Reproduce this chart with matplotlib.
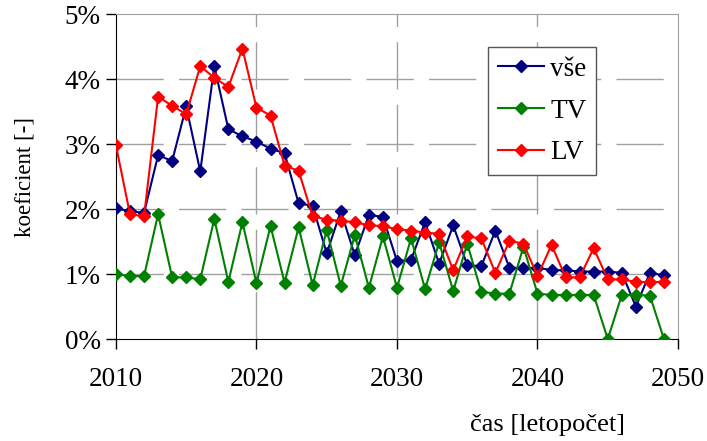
import numpy as np
import matplotlib.pyplot as plt
from matplotlib.ticker import FuncFormatter

# roky a hodnoty koeficientu v procentech
years = list(range(2010, 2050))
vse = [2.01, 1.97, 1.94, 2.83, 2.74, 3.58, 2.58, 4.20, 3.23, 3.12,
       3.04, 2.93, 2.86, 2.09, 2.05, 1.32, 1.97, 1.29, 1.91, 1.88,
       1.20, 1.22, 1.80, 1.16, 1.75, 1.14, 1.12, 1.67, 1.10, 1.09,
       1.10, 1.06, 1.06, 1.04, 1.04, 1.04, 1.02, 0.50, 1.02, 0.98]
tv = [1.00, 0.97, 0.97, 1.92, 0.95, 0.95, 0.92, 1.85, 0.88, 1.80,
      0.86, 1.74, 0.87, 1.72, 0.83, 1.68, 0.82, 1.60, 0.79, 1.58,
      0.79, 1.55, 0.77, 1.49, 0.74, 1.47, 0.73, 0.70, 0.70, 1.42,
      0.70, 0.68, 0.68, 0.68, 0.68, 0.00, 0.68, 0.68, 0.67, 0.00]
lv = [2.98, 1.92, 1.89, 3.73, 3.59, 3.46, 4.20, 4.02, 3.88, 4.47,
      3.56, 3.44, 2.67, 2.59, 1.89, 1.84, 1.82, 1.80, 1.75, 1.74,
      1.69, 1.67, 1.64, 1.62, 1.06, 1.58, 1.55, 1.02, 1.51, 1.47,
      0.97, 1.45, 0.95, 0.95, 1.40, 0.92, 0.92, 0.88, 0.88, 0.88]
x_ticks = [2010, 2020, 2030, 2040, 2050]
y_ticks = [0, 1, 2, 3, 4, 5]

plt.rcParams['font.family'] = ['Liberation Serif', 'DejaVu Serif']

fig = plt.figure(figsize=(7.07, 4.41), dpi=100)
ax = fig.add_axes([0.164, 0.231, 0.795, 0.737])

ax.plot(years, vse, color='#000080', marker='D', markersize=6.5, lw=1.5, label='vše', zorder=3)
ax.plot(years, tv, color='#008000', marker='D', markersize=6.5, lw=1.5, label='TV', zorder=3)
ax.plot(years, lv, color='#ff0000', marker='D', markersize=6.5, lw=1.5, label='LV', zorder=3)

ax.set_xlim(2010, 2050)
ax.set_ylim(0, 5)
ax.set_xticks(x_ticks)
ax.set_yticks(y_ticks)
ax.yaxis.set_major_formatter(FuncFormatter(lambda v, p: '%d%%' % v))
ax.tick_params(direction='out', length=7, width=1, labelsize=19.5, color='black')
ax.tick_params(axis='x', pad=13)
ax.tick_params(axis='y', pad=4)

for yv in y_ticks[1:-1]:
    ax.axhline(yv, color='#a0a0a0', lw=1, dashes=(34, 11), zorder=1)
for xv in x_ticks[1:-1]:
    ax.axvline(xv, color='#a0a0a0', lw=1, dashes=(34, 11), zorder=1)

ax.spines['left'].set_color('black')
ax.spines['bottom'].set_color('black')
ax.spines['top'].set_color('#a0a0a0')
ax.spines['right'].set_color('#a0a0a0')

ax.set_ylabel('koeficient [-]', fontsize=16.5, va='center')
ax.yaxis.set_label_coords(-0.162, 0.5)
fig.text(0.775, 0.036, 'čas [letopočet]', fontsize=19, ha='center', va='center')

leg = ax.legend(loc='upper left', bbox_to_anchor=(0.662, 0.898), borderaxespad=0,
                fontsize=19.5, frameon=True, fancybox=False, handlelength=1.7,
                labelspacing=0.62, borderpad=0.35, handletextpad=0.25)
leg.get_frame().set_edgecolor('#555555')
leg.get_frame().set_linewidth(1)
leg.get_frame().set_alpha(1)

fig.savefig('out.png', dpi=100)
